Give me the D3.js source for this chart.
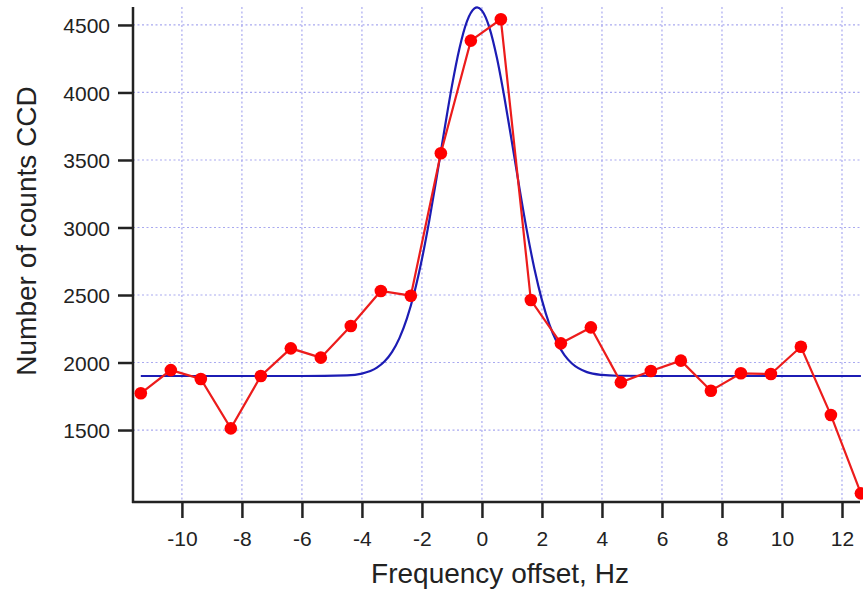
<!DOCTYPE html>
<html>
<head>
<meta charset="utf-8">
<script src="https://cdn.jsdelivr.net/npm/d3@7"></script>
<style>
  html, body { margin: 0; padding: 0; background: #fff; overflow: hidden; }
  svg { display: block; }
  text { font-family: Arial, "Liberation Sans", Helvetica, sans-serif; fill: #222; }
</style>
</head>
<body>
<svg id="chart" width="863" height="591"></svg>
<script>
// Measured data (frequency offset in Hz, counts)
const freq = [-11.37,-10.37,-9.37,-8.37,-7.37,-6.37,-5.37,-4.37,-3.37,-2.37,-1.37,-0.37,0.63,1.63,2.63,3.63,4.63,5.63,6.63,7.63,8.63,9.63,10.63,11.63,12.63];
const counts = [1772,1944,1878,1512,1900,2105,2036,2270,2530,2495,3550,4384,4542,2463,2142,2260,1853,1937,2014,1791,1920,1915,2117,1611,1031];

// Fit curve at sample points
const fitFreq = [-11.37,-6,-4.5,-4,-3.5,-3.25,-3,-2.75,-2.5,-2.25,-2,-1.75,-1.5,-1.25,-1,-0.75,-0.5,-0.25,-0.16,0,0.25,0.5,0.75,1,1.25,1.5,1.75,2,2.25,2.5,2.75,3,3.5,4,4.5,6,12.63];
const fitCounts = [1900,1900,1905,1918,1962,2007,2077,2181,2327,2521,2766,3058,3385,3724,4049,4326,4526,4622,4630,4606,4479,4255,3961,3631,3292,2973,2693,2462,2281,2148,2055,1993,1929,1908,1902,1900,1900];

const xTicks = [-10,-8,-6,-4,-2,0,2,4,6,8,10,12];
const yTicks = [1500,2000,2500,3000,3500,4000,4500];
const xTitle = "Frequency offset, Hz";
const yTitle = "Number of counts CCD";

const svg = d3.select("#chart");
const pLeft = 133, pRight = 860, pTop = 7, pBottom = 502;

const x = d3.scaleLinear().domain([-11.63, 12.6]).range([pLeft, pRight]);
const y = d3.scaleLinear().domain([967, 4633]).range([pBottom, pTop]);

// Grid
const grid = svg.append("g");
grid.selectAll("line.gx").data(xTicks).join("line").attr("class", "gx")
  .attr("x1", d => x(d)).attr("x2", d => x(d))
  .attr("y1", pTop).attr("y2", pBottom)
  .attr("stroke", "#a9a9f0").attr("stroke-width", 1.2).attr("stroke-dasharray", "2,2.5");
grid.selectAll("line.gy").data(yTicks).join("line").attr("class", "gy")
  .attr("x1", pLeft).attr("x2", pRight)
  .attr("y1", d => y(d)).attr("y2", d => y(d))
  .attr("stroke", "#a9a9f0").attr("stroke-width", 1.2).attr("stroke-dasharray", "2,2.5");

// Axes
const fmt = d => String(d);
const xAxis = d3.axisBottom(x).tickValues(xTicks).tickFormat(fmt).tickSize(16).tickPadding(13).tickSizeOuter(0);
const yAxis = d3.axisLeft(y).tickValues(yTicks).tickFormat(fmt).tickSize(15).tickPadding(8).tickSizeOuter(0);

const gx = svg.append("g").attr("transform", `translate(0,${pBottom})`).call(xAxis);
const gy = svg.append("g").attr("transform", `translate(${pLeft},0)`).call(yAxis);
[gx, gy].forEach(g => {
  g.attr("font-size", null).attr("font-family", null);
  g.select(".domain").remove();
  g.selectAll(".tick line").attr("stroke", "#222").attr("stroke-width", 2.5);
  g.selectAll(".tick text").style("font-size", "21px").attr("fill", "#222");
});
gy.selectAll(".tick text").attr("dy", "0.36em");

// Axis lines
svg.append("line").attr("x1", pLeft).attr("x2", pLeft).attr("y1", pTop).attr("y2", pBottom + 1)
  .attr("stroke", "#222").attr("stroke-width", 2.5);
svg.append("line").attr("x1", pLeft - 1).attr("x2", pRight).attr("y1", pBottom).attr("y2", pBottom)
  .attr("stroke", "#222").attr("stroke-width", 2.5);

// Fit curve
const fitData = fitFreq.map((f, i) => [f, fitCounts[i]]);
svg.append("path").datum(fitData)
  .attr("fill", "none").attr("stroke", "#1c1cb4").attr("stroke-width", 2.2)
  .attr("d", d3.line().x(d => x(d[0])).y(d => y(d[1])).curve(d3.curveMonotoneX));

// Data
const data = freq.map((f, i) => [f, counts[i]]);
svg.append("path").datum(data)
  .attr("fill", "none").attr("stroke", "#ec1c1c").attr("stroke-width", 2.2)
  .attr("d", d3.line().x(d => x(d[0])).y(d => y(d[1])));
svg.selectAll("circle.pt").data(data).join("circle").attr("class", "pt")
  .attr("cx", d => x(d[0])).attr("cy", d => y(d[1])).attr("r", 6.3)
  .attr("fill", "#ff0000");

// Titles
svg.append("text").attr("x", 500).attr("y", 583).attr("text-anchor", "middle")
  .style("font-size", "28px").text(xTitle);
svg.append("text").attr("transform", "translate(36,231) rotate(-90)")
  .attr("text-anchor", "middle").style("font-size", "28px").text(yTitle);
</script>
</body>
</html>
